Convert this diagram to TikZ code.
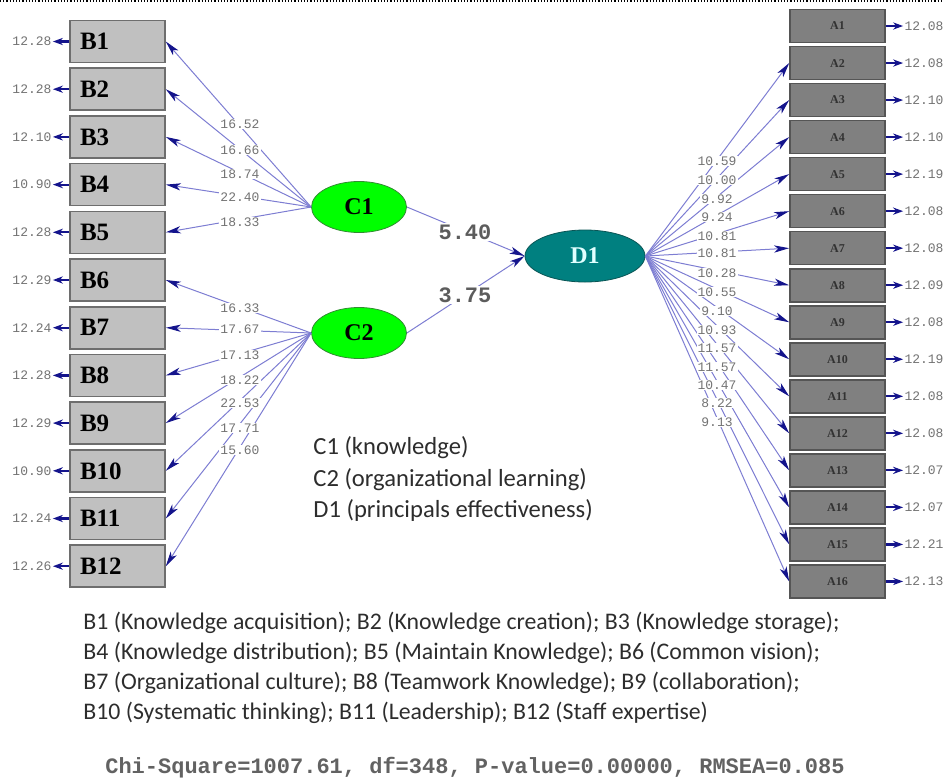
\documentclass[tikz,border=0pt]{standalone}
\usepackage{fontspec}
\setmainfont{Liberation Serif}
\newfontfamily\legendfont{Carlito}
\newfontfamily\numfont{Liberation Mono}
\usetikzlibrary{arrows.meta,shapes.geometric}

\definecolor{bfill}{RGB}{192,192,192}
\definecolor{bedge}{RGB}{110,110,110}
\definecolor{afill}{RGB}{128,128,128}
\definecolor{aedge}{RGB}{85,85,85}
\definecolor{atext}{RGB}{50,50,50}
\definecolor{cgreen}{RGB}{0,255,0}
\definecolor{cedge}{RGB}{50,140,50}
\definecolor{dteal}{RGB}{0,128,128}
\definecolor{dedge}{RGB}{10,85,85}
\definecolor{dtext}{RGB}{225,255,255}
\definecolor{lineblue}{RGB}{125,125,210}
\definecolor{tipblue}{RGB}{20,20,140}
\definecolor{estgrey}{RGB}{115,115,115}
\definecolor{txtgrey}{RGB}{45,45,45}

\begin{document}
\begin{tikzpicture}[x=0.5pt,y=-0.5pt]
    \tikzset{
        bbox/.style={draw=bedge, fill=bfill, line width=0.8pt, minimum width=47.5pt, minimum height=21pt,
            text width=37.5pt, inner xsep=5pt, align=left, font=\fontsize{12.5}{13}\selectfont\bfseries},
        abox/.style={draw=aedge, fill=afill, line width=0.8pt, minimum width=47.5pt, minimum height=16.5pt,
            text=atext, font=\fontsize{6}{6}\selectfont\bfseries},
        latent/.style={draw=cedge, fill=cgreen, ellipse, minimum width=47.5pt, minimum height=25.5pt,
            inner sep=0pt, font=\fontsize{12}{12}\selectfont\bfseries},
        arc/.style={draw=lineblue, line width=0.5pt, -{Stealth[length=7.5pt,width=3.6pt,inset=2pt,color=tipblue]}},
        err/.style={draw=tipblue, line width=1.1pt, -{Stealth[length=5pt,width=3.6pt]}},
        est/.style={text=estgrey, fill=white, inner sep=0.5pt, font=\numfont\fontsize{6.5}{6.5}\selectfont},
        coef/.style={text=estgrey!80!black, fill=white, inner sep=1pt, font=\numfont\fontsize{11}{11}\selectfont\bfseries},
        legend/.style={anchor=west, text=txtgrey, inner sep=0pt, font=\legendfont\fontsize{12.3}{12.3}\selectfont},
        note/.style={anchor=west, text=txtgrey, inner sep=0pt, font=\legendfont\fontsize{11.9}{11.9}\selectfont}
    }
    \useasboundingbox (0,0) rectangle (944,778);
    \draw[densely dotted, line width=0.6pt] (0,1) -- (944,1);

    % indicators and error variances
    \foreach \i/\e in {1/12.28,2/12.28,3/12.10,4/10.90,5/12.28,6/12.29,7/12.24,8/12.28,9/12.29,10/10.90,11/12.24,12/12.26}{
        \node[bbox] (B\i) at (117.5,{41.5+(\i-1)*47.7}) {B\i};
        \node[est] (eB\i) at (32,{41.5+(\i-1)*47.7}) {\e};
        \draw[err] (B\i.west) -- (eB\i.east);
    }
    \foreach \i/\e in {1/12.08,2/12.08,3/12.10,4/12.10,5/12.19,6/12.08,7/12.08,8/12.09,9/12.08,10/12.19,11/12.08,12/12.08,13/12.07,14/12.07,15/12.21,16/12.13}{
        \node[abox] (A\i) at (837.5,{26+(\i-1)*37.03}) {A\i};
        \node[est] (eA\i) at (924,{26+(\i-1)*37.03}) {\e};
        \draw[err] (A\i.east) -- (eA\i.west);
    }

    \node[latent] (C1) at (359,207) {C1};
    \node[latent] (C2) at (359,333) {C2};
    \node[latent, draw=dedge, fill=dteal, text=dtext, minimum width=60pt, minimum height=26pt] (D1) at (585,256) {D1};

    \foreach \i in {1,...,5} \draw[arc] (C1.west) -- (B\i.east);
    \foreach \i in {6,...,12} \draw[arc] (C2.west) -- (B\i.east);
    \foreach \i in {2,...,16} \draw[arc] (D1.east) -- (A\i.west);
    \draw[arc] (C1.east) -- (D1.west);
    \draw[arc] (C2.east) -- (D1.west);

    % loadings
    \foreach \v/\y [count=\k] in {16.52/124,16.66/150,18.74/174,22.40/197,18.33/222}
        \node[est] (lc1\k) at (240,\y) {\v};
    \foreach \v/\y [count=\k] in {16.33/308,17.67/329,17.13/355,18.22/380,22.53/403,17.71/428,15.60/450}
        \node[est] (lc2\k) at (240,\y) {\v};
    \foreach \v/\y [count=\k] in {10.59/161,10.00/180,9.92/199,9.24/217,10.81/236,10.81/253,10.28/273,10.55/292,9.10/311,10.93/330,11.57/348,11.57/367,10.47/385,8.22/403,9.13/422}
        \node[est] (ld\k) at (717,\y) {\v};
    \node[coef] (g1) at (465,232) {5.40};
    \node[coef] (g2) at (465,295) {3.75};

    \node[legend] (k1) at (313,448) {C1 (knowledge)};
    \node[legend] (k2) at (313,480) {C2 (organizational learning)};
    \node[legend] (k3) at (313,510) {D1 (principals effectiveness)};

    \node[note] (n1) at (83,623) {B1 (Knowledge acquisition); B2 (Knowledge creation); B3 (Knowledge storage);};
    \node[note] (n2) at (83,653) {B4 (Knowledge distribution); B5 (Maintain Knowledge); B6 (Common vision);};
    \node[note] (n3) at (83,683) {B7 (Organizational culture); B8 (Teamwork Knowledge); B9 (collaboration);};
    \node[note] (n4) at (83,713) {B10 (Systematic thinking); B11 (Leadership); B12 (Staff expertise)};

    \node[text=estgrey!85!black, font=\numfont\fontsize{11}{11}\selectfont\bfseries] (fit) at (475,768)
        {Chi-Square=1007.61, df=348, P-value=0.00000, RMSEA=0.085};
\end{tikzpicture}
\end{document}
